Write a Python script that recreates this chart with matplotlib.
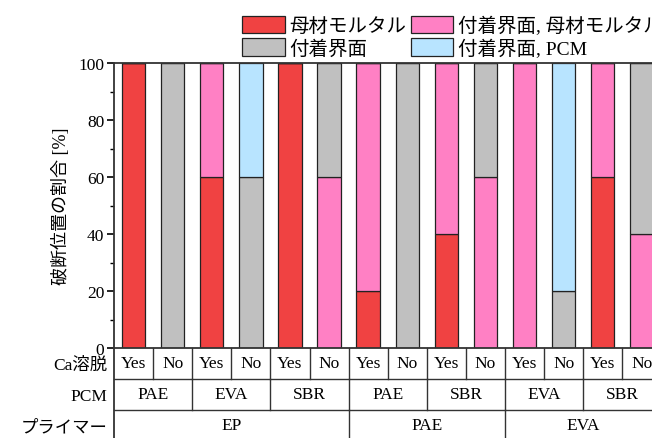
import matplotlib
matplotlib.use("Agg")
import matplotlib.pyplot as plt
import numpy as np

plt.rcParams['font.family'] = ['Liberation Serif', 'Noto Sans CJK JP']
plt.rcParams['axes.unicode_minus'] = False

# table labels under the bars
ca_leach = ['Yes', 'No', 'Yes', 'No', 'Yes', 'No', 'Yes', 'No',
            'Yes', 'No', 'Yes', 'No', 'Yes', 'No']
pcm = ['PAE', 'EVA', 'SBR', 'PAE', 'SBR', 'EVA', 'SBR']
primer = ['EP', 'PAE', 'EVA']
primer_span = [6, 4, 4]

# fracture location ratio [%]
mortar = [100, 0, 60, 0, 100, 0, 20, 0, 40, 0, 0, 0, 60, 0]
iface_mortar = [0, 0, 40, 0, 0, 60, 80, 0, 60, 60, 100, 0, 40, 40]
iface = [0, 100, 0, 60, 0, 40, 0, 100, 0, 40, 0, 20, 0, 60]
iface_pcm = [0, 0, 0, 40, 0, 0, 0, 0, 0, 0, 0, 80, 0, 0]

series = [
    (mortar, '#f04242', '母材モルタル'),
    (iface_mortar, '#ff80c4', '付着界面, 母材モルタル'),
    (iface, '#c0c0c0', '付着界面'),
    (iface_pcm, '#b8e4ff', '付着界面, PCM'),
]

fig = plt.figure(figsize=(6.52, 4.39), dpi=100)
ax = fig.add_axes([114 / 652, 90 / 439, 547.4 / 652, 285 / 439])

x = np.arange(len(ca_leach))
bottom = np.zeros(len(x))
handles = {}
for vals, col, lab in series:
    b = ax.bar(x, vals, 0.6, bottom=bottom, color=col, edgecolor='#222222',
               linewidth=0.9, label=lab, zorder=2)
    handles[lab] = b
    bottom += np.array(vals)

ax.set_xlim(-0.5, len(x) - 0.5)
ax.set_ylim(0, 100)
ax.set_yticks(np.arange(0, 101, 20))
ax.set_yticks(np.arange(10, 100, 20), minor=True)
ax.set_xticks([])
ax.tick_params(axis='y', which='major', direction='out', length=5, width=1.2,
               labelsize=12.5, pad=2)
ax.tick_params(axis='y', which='minor', direction='out', length=3, width=1.0)
for s in ['left', 'bottom', 'top']:
    ax.spines[s].set_linewidth(1.3)
    ax.spines[s].set_color('#333333')
ax.spines['right'].set_visible(False)
ax.set_ylabel('破断位置の割合 [%]', fontsize=13, labelpad=6)

# table below the axis
trans = ax.get_xaxis_transform()
rh = 31 / 285
lc = '#333333'
fs = 12.5
row_names = ['Ca溶脱', 'PCM', 'プライマー']
for i, name in enumerate(row_names):
    yc = -(i + 0.5) * rh - 0.006
    ax.text(-0.67, yc, name, transform=trans, ha='right', va='center',
            fontsize=fs)
    ax.plot([-0.5, len(x) - 0.5], [-(i + 1) * rh] * 2, transform=trans,
            color=lc, lw=1.0, clip_on=False)
ax.plot([-0.5, -0.5], [0, -3 * rh], transform=trans, color=lc, lw=1.3,
        clip_on=False)

for i, t in enumerate(ca_leach):
    ax.text(i, -0.5 * rh, t, transform=trans, ha='center', va='center',
            fontsize=fs)
    if i > 0:
        ax.plot([i - 0.5] * 2, [0, -rh], transform=trans, color=lc, lw=1.0,
                clip_on=False)

for j, t in enumerate(pcm):
    ax.text(2 * j + 0.5, -1.5 * rh, t, transform=trans, ha='center',
            va='center', fontsize=fs)
    if j > 0:
        ax.plot([2 * j - 0.5] * 2, [-rh, -2 * rh], transform=trans, color=lc,
                lw=1.0, clip_on=False)

start = 0
for k, (t, n) in enumerate(zip(primer, primer_span)):
    ax.text(start + n / 2 - 0.5, -2.5 * rh, t, transform=trans, ha='center',
            va='center', fontsize=fs)
    if k > 0:
        ax.plot([start - 0.5] * 2, [-2 * rh, -3 * rh], transform=trans,
                color=lc, lw=1.0, clip_on=False)
    start += n

order = ['母材モルタル', '付着界面', '付着界面, 母材モルタル', '付着界面, PCM']
leg = fig.legend([handles[k] for k in order], order, ncol=2, frameon=False,
                 loc='upper left', bbox_to_anchor=(242 / 652, 1 - 17 / 439),
                 fontsize=14, handlelength=2.2, handleheight=1.0,
                 handletextpad=0.25, columnspacing=0.2, labelspacing=0.15,
                 borderaxespad=0, borderpad=0)

fig.savefig('out.png', dpi=100)
